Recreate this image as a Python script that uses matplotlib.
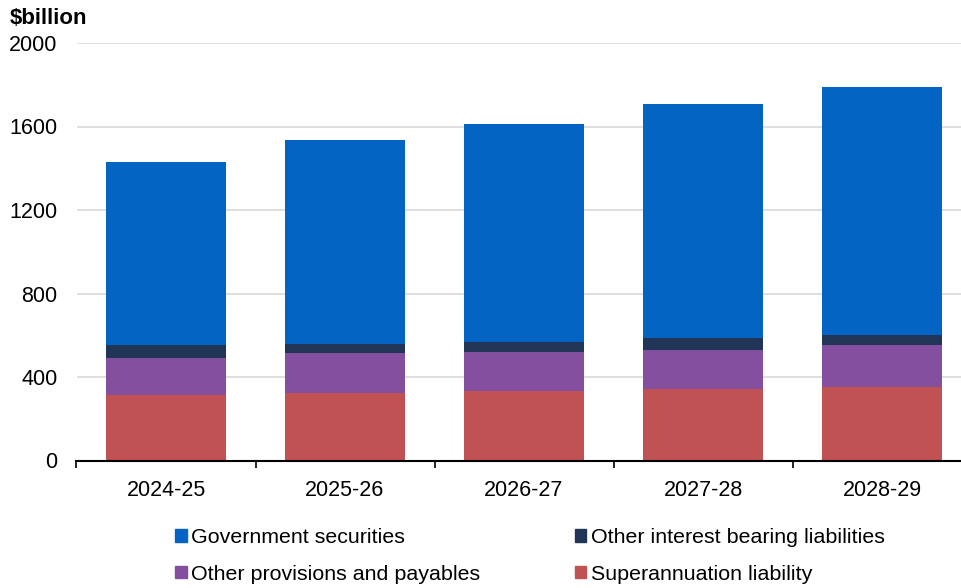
import numpy as np
import matplotlib.pyplot as plt
from matplotlib.patches import Patch

plt.rcParams['font.family'] = ['Liberation Sans', 'DejaVu Sans']

years = ['2024-25', '2025-26', '2026-27', '2027-28', '2028-29']
superannuation = [312, 323, 333, 342, 352]
other_provisions = [180, 190, 189, 188, 199]
other_interest = [59, 46, 48, 59, 48]
gov_securities = [877, 974, 1040, 1117, 1188]

series = [
    ('Superannuation liability', superannuation, '#C05254'),
    ('Other provisions and payables', other_provisions, '#854FA0'),
    ('Other interest bearing liabilities', other_interest, '#213556'),
    ('Government securities', gov_securities, '#0464C4'),
]

W, H = 961, 588
fig = plt.figure(figsize=(W / 100, H / 100), dpi=100)
left, right = 76.5, 971.5
ax = fig.add_axes([left / W, (H - 460.5) / H, (right - left) / W, (460.5 - 43) / H])

x = np.arange(len(years))
bottom = np.zeros(len(years))
for name, vals, col in series:
    ax.bar(x, vals, width=0.67, bottom=bottom, color=col, zorder=3)
    bottom += np.array(vals)

ax.set_xlim(-0.5, 4.5)
ax.set_ylim(0, 2000)
ax.set_yticks([0, 400, 800, 1200, 1600, 2000])
ax.yaxis.grid(True, color='#d9d9d9', linewidth=1.2, zorder=0)
ax.tick_params(axis='y', length=0, labelsize=15.5, pad=13.5)
ax.set_xticks(np.arange(-0.5, 5, 1))
ax.set_xticklabels([])
ax.set_xticks(x, minor=True)
ax.set_xticklabels(years, minor=True)
ax.tick_params(axis='x', which='major', length=5, width=1.2, direction='out', color='black')
ax.tick_params(axis='x', which='minor', length=0, labelsize=15.5, pad=14)
for s in ['top', 'right', 'left']:
    ax.spines[s].set_visible(False)
ax.spines['bottom'].set_linewidth(1.5)
ax.spines['bottom'].set_zorder(4)

fig.text(10 / W, 1 - 19 / H, '$billion', fontsize=16, fontweight='bold', va='center', ha='left')

# legend filled column-wise: left column Gov / Other provisions, right column Other interest / Super
handles = [Patch(color=series[3][2], label=series[3][0]),
           Patch(color=series[1][2], label=series[1][0]),
           Patch(color=series[2][2], label=series[2][0]),
           Patch(color=series[0][2], label=series[0][0])]
fig.legend(handles=handles, ncol=2, loc='center', bbox_to_anchor=(530 / W, 1 - 556 / H),
           frameon=False, fontsize=15.4, handlelength=0.55, handleheight=0.55, handletextpad=0.2,
           columnspacing=4.4, labelspacing=0.8, borderpad=0, borderaxespad=0)

fig.savefig('out.png', dpi=100)
